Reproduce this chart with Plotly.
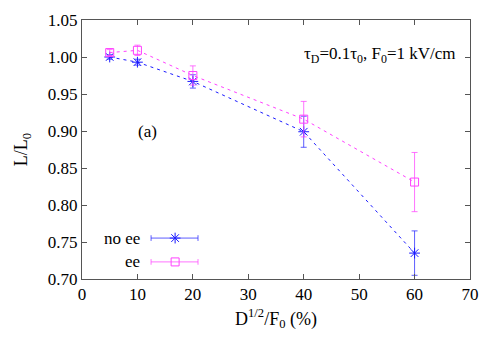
import plotly.graph_objects as go

# data
field_pct = [5, 10, 20, 40, 60]
ratio_no_ee = [1.000, 0.993, 0.967, 0.899, 0.735]
err_no_ee = [0.003, 0.004, 0.009, 0.021, 0.030]
ratio_ee = [1.006, 1.009, 0.975, 0.916, 0.831]
err_ee = [0.004, 0.007, 0.013, 0.024, 0.040]

series_names = ['no ee', 'ee']
y_ticks = [0.70, 0.75, 0.80, 0.85, 0.90, 0.95, 1.00, 1.05]
x_ticks = [0, 10, 20, 30, 40, 50, 60, 70]

BLUE = '#1a1aff'
MAGENTA = '#ff40ff'
FONT = 'Liberation Serif'

fig = go.Figure()

fig.add_trace(go.Scatter(
    x=field_pct, y=ratio_no_ee,
    mode='lines+markers',
    name=series_names[0],
    line=dict(color=BLUE, width=1, dash='3px,4px'),
    marker=dict(symbol='asterisk-open', size=9, color=BLUE, line=dict(color=BLUE, width=1)),
    error_y=dict(type='data', array=err_no_ee, visible=True, color='rgba(40,40,255,0.75)',
                 thickness=1, width=3),
    showlegend=False,
))
fig.add_trace(go.Scatter(
    x=field_pct, y=ratio_ee,
    mode='lines+markers',
    name=series_names[1],
    line=dict(color=MAGENTA, width=1, dash='3px,4px'),
    marker=dict(symbol='square-open', size=8, color=MAGENTA, line=dict(color=MAGENTA, width=1)),
    error_y=dict(type='data', array=err_ee, visible=True, color='rgba(255,80,255,0.8)',
                 thickness=1, width=3),
    showlegend=False,
))

# gnuplot-style key: label on the left, error-bar sample on the right
key_rows = [0.158, 0.066]
key_x0, key_x1, key_mid = 0.178, 0.299, 0.24
key_syms = ['asterisk-open', 'square-open']
key_cols = [BLUE, MAGENTA]
key_bar_cols = ['rgba(40,40,255,0.75)', 'rgba(255,80,255,0.8)']
for name, ky, sym, col, bcol in zip(series_names, key_rows, key_syms, key_cols, key_bar_cols):
    fig.add_annotation(x=0.155, y=ky, xref='paper', yref='paper', text=name,
                       showarrow=False, xanchor='right', yanchor='middle',
                       font=dict(family=FONT, size=17, color='black'))
    fig.add_shape(type='line', xref='paper', yref='paper', x0=key_x0, x1=key_x1,
                  y0=ky, y1=ky, line=dict(color=bcol, width=1))
    for kx in (key_x0, key_x1):
        fig.add_shape(type='line', xref='paper', yref='paper', x0=kx, x1=kx,
                      y0=ky - 0.011, y1=ky + 0.011, line=dict(color=bcol, width=1))
    fig.add_trace(go.Scatter(
        x=[key_mid], y=[ky], xaxis='x2', yaxis='y2', mode='markers',
        marker=dict(symbol=sym, size=9 if sym.startswith('ast') else 8, color=col,
                    line=dict(color=col, width=1)),
        showlegend=False, hoverinfo='skip',
    ))

fig.add_annotation(x=0.969, y=0.865, xref='paper', yref='paper',
                   text='τ<sub>D</sub>=0.1τ<sub>0</sub>, F<sub>0</sub>=1 kV/cm',
                   showarrow=False, xanchor='right', yanchor='middle',
                   font=dict(family=FONT, size=17, color='black'))
fig.add_annotation(x=0.168, y=0.568, xref='paper', yref='paper', text='(a)',
                   showarrow=False, xanchor='center', yanchor='middle',
                   font=dict(family=FONT, size=17, color='black'))

axis_common = dict(
    showgrid=False, zeroline=False, showline=True, linecolor='#555555', linewidth=1,
    mirror='ticks', ticks='inside', ticklen=5, tickcolor='#555555',
    tickfont=dict(family=FONT, size=17, color='black'),
)

fig.update_layout(
    width=500, height=350,
    margin=dict(l=82, r=30, t=20, b=71),
    paper_bgcolor='white', plot_bgcolor='white',
    xaxis=dict(range=[0, 70], tickvals=x_ticks,
               title=dict(text='D<sup>1/2</sup>/F<sub>0</sub> (%)', standoff=8,
                          font=dict(family=FONT, size=18, color='black')),
               **axis_common),
    yaxis=dict(range=[0.70, 1.05], tickvals=y_ticks, tickformat='.2f',
               title=dict(text='L/L<sub>0</sub>', standoff=15,
                          font=dict(family=FONT, size=18, color='black')),
               **axis_common),
    xaxis2=dict(overlaying='x', range=[0, 1], visible=False, fixedrange=True),
    yaxis2=dict(overlaying='y', range=[0, 1], visible=False, fixedrange=True),
    showlegend=False,
)

fig.write_html("out.html", config={'displayModeBar': False},
               post_script="document.body.style.margin='0';")
